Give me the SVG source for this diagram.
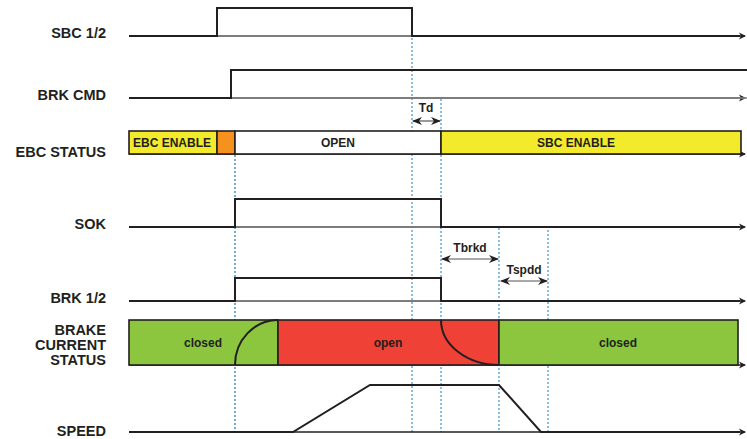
<svg xmlns="http://www.w3.org/2000/svg" width="747" height="439" viewBox="0 0 747 439">
<defs>
<marker id="ah" markerWidth="8" markerHeight="8" refX="6" refY="4" orient="auto" markerUnits="userSpaceOnUse">
<path d="M0,0.5 L7,4 L0,7.5 L2,4 Z" fill="#231f20"/>
</marker>
<marker id="dh" markerWidth="10" markerHeight="8" refX="9" refY="4" orient="auto-start-reverse" markerUnits="userSpaceOnUse">
<path d="M0,0 L10,4 L0,8 L3,4 Z" fill="#231f20"/>
</marker>
</defs>
<style>
.lbl{font-family:"Liberation Sans",Arial,sans-serif;font-weight:bold;font-size:14.5px;fill:#231f20;text-anchor:end}
.bt{font-family:"Liberation Sans",Arial,sans-serif;font-weight:bold;font-size:12px;fill:#231f20;text-anchor:middle}
.ax{fill:none;stroke:#8a8a8a;stroke-width:1.5}
.axa{fill:none;stroke:#231f20;stroke-width:1.3;marker-end:url(#ah)}
.sig{fill:none;stroke:#231f20;stroke-width:2}
.dot{fill:none;stroke:#4a9ad6;stroke-width:1.3;stroke-dasharray:2 2}
.dim{fill:none;stroke:#555;stroke-width:1.2;marker-start:url(#dh);marker-end:url(#dh)}
.bar{stroke:#231f20;stroke-width:1.6}
</style>
<rect width="747" height="439" fill="#ffffff"/>

<g id="labels">
<text class="lbl" x="106" y="38">SBC 1/2</text>
<text class="lbl" x="106" y="100">BRK CMD</text>
<text class="lbl" x="106" y="157">EBC STATUS</text>
<text class="lbl" x="106" y="229">SOK</text>
<text class="lbl" x="106" y="303">BRK 1/2</text>
<text class="lbl" x="106" y="335">BRAKE</text>
<text class="lbl" x="106" y="350">CURRENT</text>
<text class="lbl" x="106" y="365">STATUS</text>
<text class="lbl" x="106" y="436">SPEED</text>
</g>

<g id="guides">
<line class="dot" x1="235" y1="155" x2="235" y2="432" style="stroke:#2f7fc0"/>
<line class="dot" x1="412" y1="38" x2="412" y2="432"/>
<line class="dot" x1="441" y1="99" x2="441" y2="432"/>
<line class="dot" x1="499" y1="228" x2="499" y2="432"/>
<line class="dot" x1="548" y1="230" x2="548" y2="432"/>
</g>

<g id="sbc12">
<line class="axa" x1="129" y1="36" x2="745" y2="36"/>
<line class="ax" x1="217" y1="36" x2="412" y2="36"/>
<polyline class="sig" points="129,36 217,36 217,8 412,8 412,36 740,36"/>
</g>

<g id="brkcmd">
<line class="axa" x1="129" y1="98" x2="745" y2="98"/>
<line class="ax" x1="231" y1="98" x2="747" y2="98"/>
<polyline class="sig" points="129,98 231,98 231,70 747,70"/>
</g>

<g id="td">
<text class="bt" x="426" y="112">Td</text>
<line class="dim" x1="413" y1="121" x2="440" y2="121"/>
</g>

<g id="ebcstatus">
<line class="axa" x1="129" y1="154" x2="745" y2="154"/>
<rect class="bar" x="129" y="131" width="88" height="23" fill="#f2ea2b"/>
<rect class="bar" x="217" y="131" width="18" height="23" fill="#f5921e"/>
<rect class="bar" x="235" y="131" width="206" height="23" fill="#ffffff"/>
<rect class="bar" x="441" y="131" width="300" height="23" fill="#f2ea2b"/>
<text class="bt" x="172" y="147">EBC ENABLE</text>
<text class="bt" x="338" y="147">OPEN</text>
<text class="bt" x="576" y="147">SBC ENABLE</text>
</g>

<g id="sok">
<line class="axa" x1="129" y1="227" x2="745" y2="227"/>
<line class="ax" x1="235" y1="227" x2="441" y2="227"/>
<polyline class="sig" points="129,227 235,227 235,199 441,199 441,227 740,227"/>
</g>

<g id="tbrkd">
<text class="bt" x="470" y="252">Tbrkd</text>
<line class="dim" x1="442" y1="259" x2="498" y2="259"/>
</g>

<g id="tspdd">
<text class="bt" x="524" y="274">Tspdd</text>
<line class="dim" x1="501" y1="281" x2="547" y2="281"/>
</g>

<g id="brk12">
<line class="axa" x1="129" y1="301" x2="745" y2="301"/>
<line class="ax" x1="235" y1="301" x2="441" y2="301"/>
<polyline class="sig" points="129,301 235,301 235,278 441,278 441,301 740,301"/>
</g>

<g id="brakecurrent">
<line class="axa" x1="129" y1="365" x2="745" y2="365"/>
<rect class="bar" x="129" y="320" width="149" height="45" fill="#8cc63f"/>
<rect class="bar" x="278" y="320" width="221" height="45" fill="#ef4136"/>
<rect class="bar" x="499" y="320" width="239" height="45" fill="#8cc63f"/>
<path class="sig" d="M235,365 A43,45 0 0 1 278,320"/>
<path class="sig" d="M441,320 A58,45 0 0 0 499,365"/>
<text class="bt" x="203" y="347">closed</text>
<text class="bt" x="388" y="347">open</text>
<text class="bt" x="618" y="347">closed</text>
</g>

<g id="speed">
<line class="axa" x1="129" y1="432" x2="745" y2="432"/>
<polyline class="sig" points="129,432 293,432 370,385 499,385 541,432 740,432"/>
</g>
</svg>
